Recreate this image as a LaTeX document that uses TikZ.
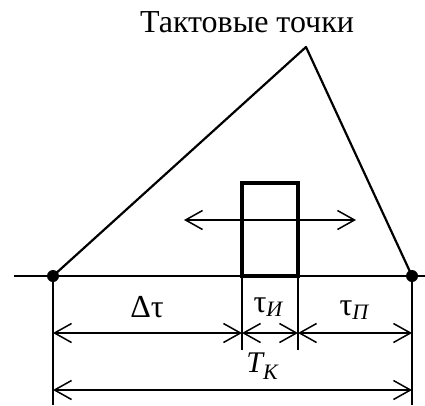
\documentclass[tikz,border=0pt]{standalone}
\usepackage{fontspec}
\setmainfont{Liberation Serif}
\usetikzlibrary{arrows.meta}
\tikzset{
  dot/.style={circle,fill=black,inner sep=0pt,minimum size=12pt},
  base/.style={line width=1.6pt},
  tri/.style={line width=2.2pt,line join=round},
  boxst/.style={draw,line width=3.2pt,inner sep=0pt,minimum width=56pt,minimum height=93pt},
  dim/.style={line width=1.5pt},
  tip/.style={line width=1.5pt,arrows={Straight Barb[length=17pt,width=19pt,line width=1.5pt]-Straight Barb[length=17pt,width=19pt,line width=1.5pt]}},
  lbl/.style={font=\fontsize{32}{34}\selectfont,inner sep=0pt},
  sub/.style={}
}
\newcommand{\subx}[1]{\raisebox{-4pt}{\fontsize{22}{24}\selectfont\itshape #1}}
\begin{document}
\begin{tikzpicture}[x=1pt,y=-1pt]
\useasboundingbox (0,0) rectangle (425,405);
\coordinate (B0) at (14,276);
\coordinate (B1) at (425,276);
\coordinate (A) at (306,47);
\draw[base] (B0) -- (B1);
\node[dot] (L) at (53,276) {};
\node[dot] (R) at (412,276) {};
\draw[tri] (L.center) -- (A) -- (R.center);
\node[boxst] (box) at (270,229.5) {};
\coordinate (M0) at (184,220);
\coordinate (M1) at (356,220);
\draw[tip] (M0) -- (M1);
% extension lines
\coordinate (Lb) at (53,405);
\coordinate (Rb) at (412,405);
\coordinate (E1) at (242,276);
\coordinate (E1b) at (242,350);
\coordinate (E2) at (298,276);
\coordinate (E2b) at (298,350);
\draw[dim] (L.center) -- (Lb);
\draw[dim] (R.center) -- (Rb);
\draw[dim] (E1) -- (E1b);
\draw[dim] (E2) -- (E2b);
% dimension line 1
\coordinate (D1a) at (53,333);
\coordinate (D1b) at (242,333);
\coordinate (D1c) at (298,333);
\coordinate (D1d) at (412,333);
\draw[tip] (D1a) -- (D1b);
\draw[tip] (D1b) -- (D1c);
\draw[tip] (D1c) -- (D1d);
% dimension line 2
\coordinate (D2a) at (53,390);
\coordinate (D2b) at (412,390);
\draw[tip] (D2a) -- (D2b);
% labels
\node[font=\fontsize{32}{34}\selectfont,inner sep=0pt,anchor=base] (title) at (247,32) {Тактовые точки};
\node[lbl,anchor=base] (dt) at (147,317) {Δτ};
\node[lbl,anchor=base] (ti) at (268,312) {τ\subx{И}};
\node[lbl,anchor=base] (tp) at (354,315) {τ\subx{П}};
\node[font=\fontsize{30}{32}\selectfont,inner sep=0pt,anchor=base] (tk) at (262,372) {\itshape T\raisebox{-7pt}{\fontsize{22}{24}\selectfont K}};
\end{tikzpicture}
\end{document}
